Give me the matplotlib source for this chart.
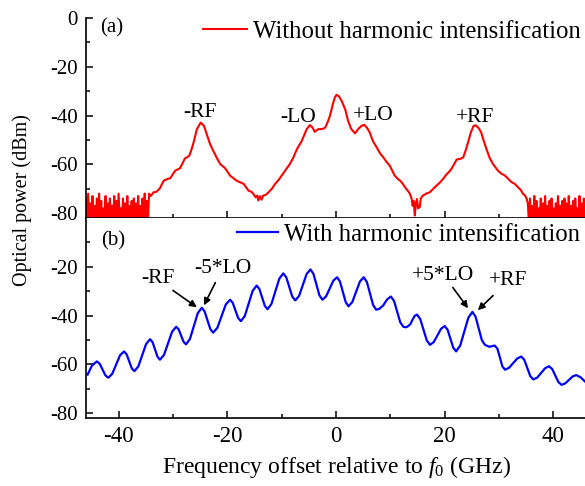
import numpy as np
import matplotlib
matplotlib.use('Agg')
import matplotlib.pyplot as plt

plt.rcParams['font.family'] = ['Liberation Serif', 'DejaVu Serif']
plt.rcParams['mathtext.fontset'] = 'custom'
plt.rcParams['mathtext.rm'] = 'Liberation Serif'
plt.rcParams['mathtext.it'] = 'Liberation Serif:italic'
plt.rcParams['axes.unicode_minus'] = False

# ---- (a) without harmonic intensification: noise floor + smooth spectrum ----
left_noise = [-74, -84, -72, -83, -76, -85, -73, -82, -77, -84, -74, -86, -72, -83, -75,
              -85, -78, -82, -73, -84, -76, -83, -74, -86, -77, -82, -73, -85, -75, -84,
              -72, -83, -78, -85, -74, -82, -76, -86, -73, -84, -77, -83, -75, -85, -74,
              -82, -76, -84, -73, -86, -77, -83, -74, -85, -72, -82, -75, -84, -72, -73]
right_noise = [-76, -84, -74, -83, -77, -85, -73, -82, -75, -86, -78, -83, -74, -84, -76,
               -85, -73, -82, -77, -84, -75, -86, -74, -83, -78, -85, -76, -82, -73, -84,
               -77, -83, -75, -86, -74, -82, -76, -85, -73, -84, -77, -83, -75, -86, -74,
               -82, -78, -84, -73, -85, -76, -83, -74, -82, -75]

red_freq = [-34.0, -33.6, -33.0, -32.4, -31.7, -31.0, -30.5, -29.6, -28.7, -27.8, -27.0, -26.6,
            -26.2, -25.6, -24.9, -24.3, -23.8, -23.2, -22.6, -21.9, -21.3, -20.4, -19.5, -18.3,
            -17.0, -16.5, -16.1, -15.6, -15.2, -14.8, -14.5, -14.3, -14.0, -13.7, -13.4, -12.9,
            -12.4, -11.8, -11.2, -10.6, -10.0, -9.2, -8.5, -7.8, -7.2, -6.3, -5.4, -4.8, -4.3,
            -3.9, -3.3, -2.5, -2.0, -1.5, -1.1, -0.6, -0.2, 0.1, 0.5, 1.0, 1.7, 2.2, 2.8, 3.5,
            4.1, 4.7, 5.2, 5.7, 6.2, 6.8, 7.5, 8.1, 8.7, 9.3, 9.9, 10.4, 10.8, 11.3, 11.8, 12.3,
            12.7, 13.2, 13.6, 13.9, 14.1, 14.3, 14.5, 14.7, 14.9, 15.1, 15.4, 15.6, 16.0, 16.6,
            17.3, 17.9, 18.5, 19.1, 19.7, 20.3, 21.0, 21.6, 22.2, 22.8, 23.4, 23.9, 24.3, 24.8,
            25.3, 25.7, 26.2, 26.7, 27.2, 27.7, 28.3, 28.9, 29.8, 30.4, 31.1, 31.7, 32.3, 32.9,
            33.5, 34.0, 34.4, 34.8, 35.1]
red_power = [-72.8, -71.5, -71.2, -69.8, -66.7, -66.0, -65.7, -62.6, -61.6, -57.6, -56.5, -54.0,
             -51.0, -45.6, -42.9, -44.2, -47.5, -51.5, -54.4, -57.5, -59.9, -61.6, -64.6, -66.7,
             -68.0, -69.5, -70.8, -71.2, -72.1, -73.5, -72.8, -74.8, -73.0, -74.5, -72.8, -72.5,
             -71.4, -70.0, -68.0, -66.5, -64.6, -62.0, -59.9, -57.0, -53.8, -50.4, -45.6, -43.9, -45.0,
             -46.7, -45.6, -45.5, -45.0, -42.5, -40.0, -35.5, -32.5, -31.5, -32.0, -33.8, -37.5, -42.0, -45.5, -47.3,
             -45.5, -44.2, -43.8, -45.0, -46.9, -50.5, -53.1, -55.5, -57.1, -59.0, -60.6, -62.8, -64.6, -65.8, -66.7, -68.0,
             -69.4, -70.8, -72.1, -74.0, -77.0, -75.0, -81.0, -76.0, -74.2, -78.0, -77.6, -74.0, -72.8, -72.0,
             -71.4, -70.0, -68.7, -67.5, -66.0, -64.2, -62.6, -60.5, -58.0, -57.8, -57.2, -54.0, -51.0, -47.0,
             -44.3, -44.0, -45.0, -46.8, -50.5, -53.8, -57.5, -59.9, -62.6, -63.8, -64.6, -66.0, -67.3, -68.0,
             -69.4, -70.5, -72.1, -72.8, -74.2]

# ---- (b) with harmonic intensification ----
blue_freq = [-45.7, -44.9, -44.0, -43.48, -42.95, -42.43, -41.9, -41.18, -40.45, -39.73, -39.0,
             -38.53, -38.05, -37.58, -37.1, -36.38, -35.65, -34.93, -34.2, -33.75, -33.3, -32.85,
             -32.4, -31.65, -30.9, -30.15, -29.4, -28.95, -28.5, -28.05, -27.6, -26.88, -26.15,
             -25.43, -24.7, -24.18, -23.65, -23.13, -22.6, -21.83, -21.05, -20.28, -19.5, -19.0,
             -18.5, -18.0, -17.5, -16.78, -16.05, -15.33, -14.6, -14.1, -13.6, -13.1, -12.6,
             -11.88, -11.15, -10.43, -9.7, -9.15, -8.6, -8.05, -7.5, -6.8, -6.1, -5.4, -4.7,
             -4.15, -3.6, -3.05, -2.5, -1.83, -1.15, -0.48, 0.2, 0.73, 1.25, 1.78, 2.3, 3.0, 3.7,
             4.4, 5.1, 5.68, 6.25, 6.83, 7.4, 8.0, 8.7, 9.4, 10.1, 10.68, 11.25, 11.83, 12.4, 12.9,
             13.3, 13.7, 14.1, 14.5, 14.9, 15.5, 16.1, 16.7, 17.3, 17.98, 18.65, 19.33, 20.0, 20.53,
             21.05, 21.58, 22.1, 22.85, 23.6, 24.35, 25.1, 25.68, 26.25, 26.83, 27.4, 28.2, 29.2,
             29.7, 30.2, 30.6, 31.1, 31.85, 32.6, 33.35, 34.1, 34.65, 35.2, 35.75, 36.3, 37.03,
             37.75, 38.48, 39.2, 39.78, 40.35, 40.93, 41.5, 42.18, 42.85, 43.53, 44.2, 45.0, 45.8]
blue_power = [-64.2, -60.5, -58.8, -59.78, -62.15, -64.52, -65.5, -63.92, -60.1, -56.28, -54.7,
              -55.88, -58.75, -61.62, -62.8, -60.89, -56.25, -51.61, -49.7, -50.93, -53.9, -56.87,
              -58.1, -56.13, -51.35, -46.57, -44.6, -45.65, -48.2, -50.75, -51.8, -49.61, -44.3,
              -38.99, -36.8, -38.29, -41.9, -45.51, -47.0, -45.03, -40.25, -35.47, -33.5, -34.78,
              -37.9, -41.02, -42.3, -40.17, -35.0, -29.83, -27.7, -29.12, -32.55, -35.98, -37.4,
              -35.25, -30.05, -24.85, -22.7, -24.32, -28.25, -32.18, -33.8, -31.95, -27.45, -22.95, -21.1,
              -22.91, -27.3, -31.69, -33.5, -32.16, -28.9, -25.64, -24.3, -26.04, -30.25, -34.46, -36.2, -34.46, -30.25,
              -26.04, -24.3, -26.24, -30.95, -35.66, -37.6, -37.2, -35.8, -33.4, -32.2, -34.01, -38.4, -42.79, -44.6, -44.8,
              -44.3, -43.5, -41.6, -40.1, -39.6, -41.41, -45.8, -50.19, -52.0, -50.88, -48.15, -45.42, -44.3, -45.82,
              -49.5, -53.18, -54.7, -52.33, -46.6, -40.87, -38.5, -40.47, -45.25, -50.03, -52.0, -52.8, -52.3,
              -53.6, -57.5, -60.8, -62.2, -61.41, -59.5, -57.59, -56.8, -58.17, -61.5, -64.83, -66.2, -65.41,
              -63.5, -61.59, -60.8, -61.91, -64.6, -67.29, -68.4, -67.82, -66.4, -64.98, -64.4, -65.3, -67.0]

x_ticks = [-40, -20, 0, 20, 40]
y_ticks_a = [0, -20, -40, -60, -80]
y_ticks_b = [-20, -40, -60, -80]

red_x = np.concatenate([np.linspace(-46.0, -34.2, len(left_noise)), red_freq,
                        np.linspace(35.3, 46.0, len(right_noise))])
red_y = np.concatenate([left_noise, red_power, right_noise])

fig = plt.figure(figsize=(5.85, 4.86), dpi=100)
ax1 = fig.add_axes([86/585, 1 - 218/486, 500/585, 200/486])
ax2 = fig.add_axes([86/585, 1 - 418/486, 500/585, 200/486], sharex=ax1)

ax1.plot(red_x, red_y, color='#ff0000', lw=1.5, label='Without harmonic intensification')
ax2.plot(blue_freq, blue_power, color='#0000ff', lw=1.6, label='With harmonic intensification')

for ax in (ax1, ax2):
    ax.set_xlim(-46, 46)
    ax.set_ylim(-82, 0)
    ax.spines['right'].set_visible(False)
    ax.spines['top'].set_visible(False)
    for s in ('left', 'bottom'):
        ax.spines[s].set_linewidth(1.2)
    ax.set_xticks(x_ticks)
    ax.set_xticks([-30, -10, 10, 30], minor=True)
    ax.tick_params(which='both', direction='in', width=1.1, pad=6)
    ax.tick_params(axis='y', labelsize=15)
    ax.tick_params(axis='x', labelsize=16.5)
    ax.tick_params(which='major', length=5)
    ax.tick_params(which='minor', length=3)

ax1.set_yticks(y_ticks_a)
ax1.set_yticks([-10, -30, -50, -70], minor=True)
ax2.set_yticks(y_ticks_b)
ax2.set_yticks([-10, -30, -50, -70], minor=True)
ax1.tick_params(labelbottom=False)

ax1.legend(loc='center left', bbox_to_anchor=(0.234, 0.93), frameon=False, fontsize=17.8,
           borderpad=0, borderaxespad=0, handlelength=1.78, handletextpad=0.24)
ax2.legend(loc='center left', bbox_to_anchor=(0.301, 0.915), frameon=False, fontsize=17.8,
           borderpad=0, borderaxespad=0, handlelength=1.67, handletextpad=0.24)

ax1.text(-41.2, -4.2, '(a)', fontsize=15, ha='center', va='center')
ax2.text(-41.0, -9.5, '(b)', fontsize=15, ha='center', va='center')

for label, x, y in [('-RF', -25.0, -38.7), ('-LO', -7.0, -40.7), ('+LO', 6.8, -39.9), ('+RF', 25.6, -40.7)]:
    ax1.text(x, y, label, fontsize=15.5, ha='center', va='center')

arrow = dict(arrowstyle='-|>', color='k', lw=1.2, mutation_scale=10, shrinkA=0, shrinkB=0)
for label, tx, ty, x0, y0, x1, y1 in [('-RF', -32.7, -24.9, -30.0, -29.7, -25.6, -36.6),
                                      ('-5*LO', -20.8, -20.8, -22.2, -26.5, -24.3, -35.8),
                                      ('+5*LO', 19.7, -23.6, 21.5, -28.5, 24.3, -37.0),
                                      ('+RF', 31.6, -25.7, 28.9, -31.8, 26.1, -37.8)]:
    ax2.text(tx, ty, label, fontsize=15.5, ha='center', va='center')
    ax2.annotate('', xy=(x1, y1), xytext=(x0, y0), arrowprops=arrow)

ax2.set_xlabel('Frequency offset relative to $\\mathit{f}_0$ (GHz)', fontsize=17, labelpad=5)
fig.text(22/585, 1 - 200/486, 'Optical power (dBm)', rotation=90, fontsize=14.5,
         ha='center', va='center')

fig.savefig('out.png', dpi=100)
